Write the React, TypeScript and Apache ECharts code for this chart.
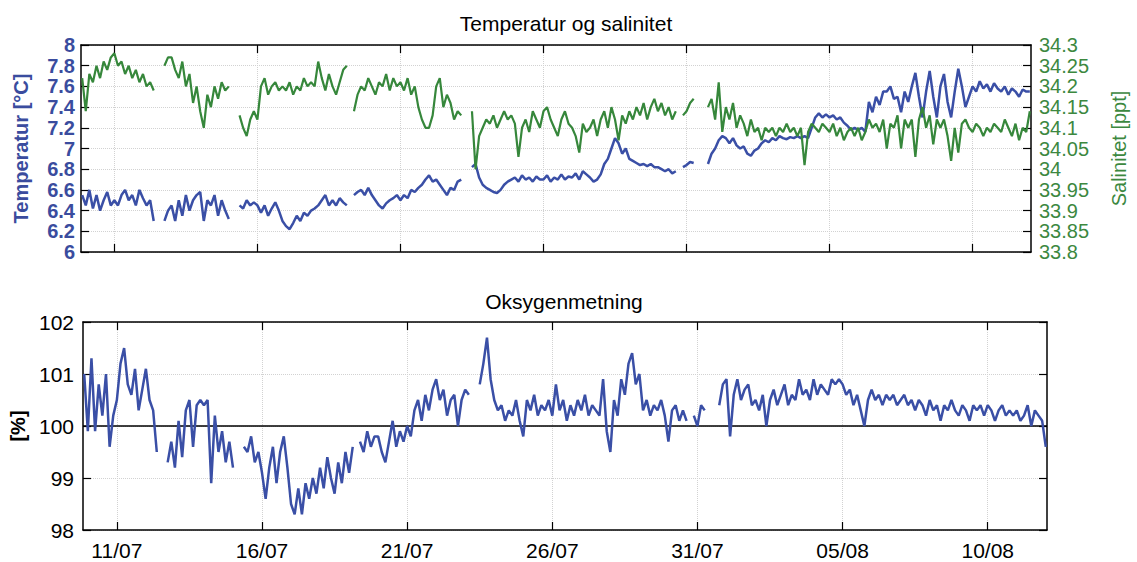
import React, { useEffect, useRef } from 'react';
import * as echarts from 'echarts';

// ---- time base (one sample every 3 hours) ----
const YEAR = 2013;
const firstSample = Date.UTC(YEAR, 6, 9, 21);
const stepHours = 3;
const xMin = Date.UTC(YEAR, 6, 9, 20);
const xMax = Date.UTC(YEAR, 7, 12, 1);
const xTickLabels = ['11/07', '16/07', '21/07', '26/07', '31/07', '05/08', '10/08'];

// ---- Temperature [°C] ----
const temperature: (number | null)[] = [
  6.55,
  6.45, 6.6, 6.42, 6.55, 6.4, 6.5, 6.58, 6.45,
  6.5, 6.45, 6.55, 6.6, 6.5, 6.55, 6.45, 6.6,
  6.52, 6.45, 6.5, 6.3, null, null, 6.3, 6.4,
  6.45, 6.3, 6.5, 6.35, 6.55, 6.4, 6.5, 6.55,
  6.58, 6.3, 6.5, 6.45, 6.55, 6.35, 6.5, 6.4,
  6.32, null, null, 6.45, 6.42, 6.5, 6.45, 6.48,
  6.45, 6.38, 6.45, 6.35, 6.42, 6.48, 6.4, 6.3,
  6.25, 6.22, 6.28, 6.35, 6.3, 6.38, 6.35, 6.4,
  6.42, 6.45, 6.5, 6.55, 6.45, 6.5, 6.45, 6.52,
  6.48, 6.45, null, 6.55, 6.58, 6.6, 6.55, 6.62,
  6.55, 6.5, 6.45, 6.42, 6.47, 6.5, 6.52, 6.55,
  6.5, 6.55, 6.52, 6.6, 6.58, 6.62, 6.65, 6.7,
  6.74, 6.68, 6.7, 6.65, 6.6, 6.55, 6.62, 6.6,
  6.68, 6.7, null, null, 6.82, 6.85, 6.72, 6.65,
  6.62, 6.6, 6.58, 6.57, 6.6, 6.65, 6.68, 6.7,
  6.72, 6.68, 6.74, 6.7, 6.72, 6.68, 6.73, 6.7,
  6.7, 6.74, 6.68, 6.72, 6.7, 6.75, 6.7, 6.73,
  6.72, 6.76, 6.7, 6.78, 6.75, 6.72, 6.68, 6.7,
  6.75, 6.85, 6.9, 7.0, 7.1, 7.05, 6.95, 7.0,
  6.9, 6.88, 6.86, 6.84, 6.85, 6.83, 6.85, 6.82,
  6.82, 6.8, 6.78, 6.8, 6.76, 6.78, null, 6.82,
  6.84, 6.87, 6.86, null, null, null, 6.85, 6.95,
  7.0, 7.08, 7.12, 7.1, 7.05, 7.1, 7.03, 7.0,
  7.02, 6.95, 6.93, 6.98, 7.0, 7.05, 7.08, 7.06,
  7.1, 7.08, 7.12, 7.1, 7.09, 7.11, 7.1, 7.12,
  7.1, 7.12, 7.1, 7.2, 7.3, 7.34, 7.3, 7.33,
  7.3, 7.32, 7.28, 7.3, 7.25, 7.22, 7.18, 7.2,
  7.18, 7.2, 7.16, 7.45, 7.35, 7.5, 7.42, 7.55,
  7.55, 7.6, 7.48, 7.5, 7.35, 7.55, 7.45, 7.6,
  7.73, 7.5, 7.3, 7.55, 7.75, 7.5, 7.3, 7.6,
  7.72, 7.45, 7.3, 7.55, 7.77, 7.6, 7.4, 7.5,
  7.6, 7.55, 7.65, 7.58, 7.62, 7.55, 7.63, 7.58,
  7.55, 7.6, 7.52, 7.58, 7.55, 7.5, 7.57, 7.55,
  7.55,
];

// ---- Salinity ----
const salinity: (number | null)[] = [
  34.22,
  34.14, 34.23, 34.21, 34.25, 34.22, 34.26, 34.24, 34.27,
  34.28, 34.25, 34.26, 34.23, 34.25, 34.22, 34.24, 34.21,
  34.23, 34.2, 34.21, 34.19, null, null, 34.25, 34.27,
  34.27, 34.24, 34.22, 34.26, 34.2, 34.23, 34.16, 34.2,
  34.14, 34.1, 34.18, 34.15, 34.2, 34.17, 34.21, 34.19,
  34.2, null, null, 34.13, 34.1, 34.08, 34.12, 34.14,
  34.12, 34.2, 34.22, 34.18, 34.2, 34.21, 34.19, 34.2,
  34.19, 34.21, 34.18, 34.2, 34.19, 34.22, 34.2, 34.21,
  34.2, 34.26, 34.22, 34.19, 34.23, 34.2, 34.18, 34.21,
  34.24, 34.25, null, 34.14, 34.18, 34.2, 34.19, 34.22,
  34.2, 34.18, 34.21, 34.2, 34.23, 34.19, 34.22, 34.2,
  34.21, 34.19, 34.22, 34.18, 34.2, 34.15, 34.12, 34.1,
  34.1, 34.13, 34.2, 34.22, 34.15, 34.18, 34.16, 34.12,
  34.14, 34.13, null, null, 34.14, 34.0, 34.08, 34.1,
  34.12, 34.11, 34.13, 34.1, 34.12, 34.14, 34.12, 34.13,
  34.11, 34.03, 34.1, 34.12, 34.09, 34.14, 34.12, 34.1,
  34.14, 34.15, 34.12, 34.1, 34.08, 34.12, 34.14, 34.11,
  34.1, 34.08, 34.04, 34.11, 34.09, 34.1, 34.12, 34.08,
  34.12, 34.14, 34.1, 34.15, 34.12, 34.07, 34.13, 34.11,
  34.14, 34.12, 34.15, 34.13, 34.16, 34.12, 34.15, 34.17,
  34.14, 34.16, 34.13, 34.15, 34.12, 34.14, null, 34.13,
  34.14, 34.16, 34.17, null, null, null, 34.15, 34.17,
  34.12, 34.21, 34.09, 34.15, 34.12, 34.16, 34.1, 34.13,
  34.11, 34.08, 34.12, 34.09, 34.1, 34.07, 34.1, 34.09,
  34.1, 34.08, 34.1, 34.09, 34.11, 34.09, 34.1, 34.08,
  34.1, 34.01, 34.09, 34.11, 34.1, 34.09, 34.11, 34.1,
  34.09, 34.11, 34.08, 34.1, 34.07, 34.09, 34.1, 34.08,
  34.1, 34.07, 34.09, 34.12, 34.1, 34.11, 34.09, 34.12,
  34.05, 34.11, 34.1, 34.13, 34.05, 34.12, 34.1, 34.12,
  34.03, 34.12, 34.15, 34.1, 34.13, 34.06, 34.12, 34.1,
  34.12, 34.08, 34.02, 34.1, 34.04, 34.11, 34.12, 34.1,
  34.09, 34.11, 34.1, 34.08, 34.1, 34.09, 34.11, 34.1,
  34.09, 34.12, 34.1, 34.08, 34.11, 34.07, 34.1, 34.09,
  34.14,
];

// ---- Oxygen saturation [%] ----
const oxygen: (number | null)[] = [
  101.0,
  99.9, 101.3, 99.9, 100.8, 100.2, 101.0, 99.6, 100.2,
  100.5, 101.2, 101.5, 100.8, 100.6, 101.1, 100.3, 100.7,
  101.1, 100.5, 100.3, 99.5, null, null, 99.3, 99.7,
  99.2, 100.1, 99.4, 100.3, 100.5, 99.6, 100.4, 100.5,
  100.4, 100.5, 98.9, 100.2, 99.5, 99.9, 99.3, 99.7,
  99.2, null, null, 99.6, 99.5, 99.8, 99.3, 99.5,
  99.1, 98.6, 99.2, 99.6, 98.9, 99.5, 99.8, 99.2,
  98.5, 98.3, 98.8, 98.3, 98.9, 98.6, 99.0, 98.7,
  99.2, 98.8, 99.4, 99.0, 98.7, 99.3, 98.9, 99.5,
  99.1, 99.6, null, 99.7, 99.5, 99.9, 99.6, 99.8,
  99.8, 99.5, 99.3, 99.7, 100.1, 99.6, 99.9, 99.7,
  100.0, 99.8, 100.3, 100.5, 100.1, 100.6, 100.3, 100.7,
  100.9, 100.5, 100.7, 100.2, 100.5, 100.6, 100.0, 100.5,
  100.7, 100.6, null, null, 100.8, 101.2, 101.7, 100.9,
  100.5, 100.3, 100.4, 100.1, 100.3, 100.2, 100.5, 100.1,
  99.8, 100.5, 100.3, 100.6, 100.2, 100.4, 100.3, 100.5,
  100.2, 100.8, 100.3, 100.5, 100.1, 100.4, 100.2, 100.5,
  100.3, 100.6, 100.2, 100.4, 100.3, 100.2, 100.9, 99.9,
  99.5, 100.5, 100.2, 100.9, 100.6, 101.2, 101.4, 100.8,
  101.0, 100.3, 100.5, 100.2, 100.4, 100.3, 100.5, 100.2,
  99.7, 100.3, 100.4, 100.1, 100.3, 100.1, null, 100.2,
  100.0, 100.4, 100.3, null, null, null, 100.4, 100.8,
  100.9, 99.8, 100.6, 100.9, 100.5, 100.7, 100.8, 100.4,
  100.5, 100.3, 100.6, 100.0, 100.5, 100.7, 100.4, 100.6,
  100.8, 100.4, 100.6, 100.5, 100.9, 100.6, 100.7, 100.5,
  100.9, 100.6, 100.8, 100.7, 100.6, 100.9, 100.8, 100.9,
  100.8, 100.6, 100.7, 100.4, 100.6, 100.3, 100.0, 100.5,
  100.7, 100.5, 100.6, 100.4, 100.6, 100.5, 100.6, 100.4,
  100.5, 100.6, 100.4, 100.5, 100.3, 100.5, 100.4, 100.2,
  100.5, 100.3, 100.4, 100.1, 100.4, 100.3, 100.5, 100.3,
  100.2, 100.4, 100.3, 100.1, 100.4, 100.3, 100.4, 100.2,
  100.4, 100.3, 100.1, 100.3, 100.4, 100.2, 100.3, 100.2,
  100.3, 100.1, 100.2, 100.4, 100.0, 100.3, 100.2, 100.1,
  99.6,
];

const oxygenReference = 100;

const BLUE = '#3a4fa6';
const BLUE_TEXT = '#3a4c9e';
const GREEN = '#36873b';
const GREEN_TEXT = '#3c883f';
const FONT = '"Liberation Sans", Arial, sans-serif';

function toPairs(values: (number | null)[]) {
  return values.map((v, i) => [firstSample + i * stepHours * 3600 * 1000, v]);
}

function tickValue(label: string) {
  const [d, m] = label.split('/').map(Number);
  return Date.UTC(YEAR, m - 1, d);
}

function fmtDate(v: number) {
  const d = new Date(v);
  const dd = String(d.getUTCDate()).padStart(2, '0');
  const mm = String(d.getUTCMonth() + 1).padStart(2, '0');
  return `${dd}/${mm}`;
}

export default function App() {
  const ref = useRef<HTMLDivElement>(null);

  useEffect(() => {
    if (!ref.current) return;
    const chart = echarts.init(ref.current, undefined, { renderer: 'svg' });
    const ticks = xTickLabels.map(tickValue);
    const gridLine = { show: true, lineStyle: { color: '#d2d2d2', type: 'dotted' as const, width: 1 } };
    const axisLine = { show: true, lineStyle: { color: '#000', width: 1.5 } };
    const tickIn = { show: true, inside: true, length: 8, lineStyle: { color: '#000', width: 1.2 } };

    const xBase = (gridIndex: number, position: 'top' | 'bottom', showLabels: boolean, split: boolean) => ({
      type: 'value',
      gridIndex,
      position,
      min: xMin,
      max: xMax,
      axisLine,
      axisTick: { ...tickIn, customValues: ticks },
      axisLabel: {
        show: showLabels,
        customValues: ticks,
        formatter: (v: number) => fmtDate(v),
        color: '#000',
        fontSize: 21,
        fontFamily: FONT,
        margin: 10,
      },
      splitLine: split ? gridLine : { show: false },
    });

    const denseLabel = {
      fontSize: 20,
      lineHeight: 19,
      fontFamily: FONT,
      interval: 0,
      showMinLabel: true,
      showMaxLabel: true,
      hideOverlap: false,
    };

    const option: any = {
      animation: false,
      backgroundColor: '#fff',
      title: [
        {
          text: 'Temperatur og salinitet',
          left: 561,
          top: 8,
          textAlign: 'center',
          textStyle: { fontSize: 21, fontWeight: 'normal', color: '#000', fontFamily: FONT },
        },
        {
          text: 'Oksygenmetning',
          left: 559,
          top: 286,
          textAlign: 'center',
          textStyle: { fontSize: 21, fontWeight: 'normal', color: '#000', fontFamily: FONT },
        },
      ],
      grid: [
        { left: 81, top: 45, width: 966, height: 207, containLabel: false },
        { left: 81, top: 322, width: 966, height: 208, containLabel: false },
      ],
      xAxis: [
        xBase(0, 'bottom', false, true),
        xBase(0, 'top', false, false),
        xBase(1, 'bottom', true, true),
        xBase(1, 'top', false, false),
      ],
      yAxis: [
        {
          type: 'value',
          gridIndex: 0,
          position: 'left',
          min: 6,
          max: 8,
          interval: 0.2,
          name: 'Temperatur [°C]',
          nameLocation: 'middle',
          nameGap: 50,
          nameRotate: 90,
          nameTextStyle: { color: BLUE_TEXT, fontSize: 20, fontWeight: 'bold', fontFamily: FONT },
          axisLine,
          axisTick: tickIn,
          axisLabel: { ...denseLabel, color: BLUE_TEXT, fontWeight: 'bold', margin: 6 },
          splitLine: gridLine,
        },
        {
          type: 'value',
          gridIndex: 0,
          position: 'right',
          min: 33.8,
          max: 34.3,
          interval: 0.05,
          name: 'Salinitet [ppt]',
          nameLocation: 'middle',
          nameGap: 78,
          nameRotate: 90,
          nameTextStyle: { color: GREEN_TEXT, fontSize: 20, fontFamily: FONT },
          axisLine,
          axisTick: tickIn,
          axisLabel: { ...denseLabel, color: GREEN_TEXT, margin: 8 },
          splitLine: { show: false },
        },
        {
          type: 'value',
          gridIndex: 1,
          position: 'left',
          min: 98,
          max: 102,
          interval: 1,
          name: '[%]',
          nameLocation: 'middle',
          nameGap: 55,
          nameRotate: 90,
          nameTextStyle: { color: '#000', fontSize: 20, fontWeight: 'bold', fontFamily: FONT },
          axisLine,
          axisTick: tickIn,
          axisLabel: { color: '#000', fontSize: 21, fontFamily: FONT, margin: 9, showMinLabel: true, showMaxLabel: true },
          splitLine: gridLine,
        },
        {
          type: 'value',
          gridIndex: 1,
          position: 'right',
          min: 98,
          max: 102,
          interval: 1,
          axisLine,
          axisTick: tickIn,
          axisLabel: { show: false },
          splitLine: { show: false },
        },
      ],
      series: [
        {
          name: 'Temperatur',
          type: 'line',
          xAxisIndex: 0,
          yAxisIndex: 0,
          data: toPairs(temperature),
          showSymbol: false,
          lineStyle: { color: BLUE, width: 2.5 },
          itemStyle: { color: BLUE },
          connectNulls: false,
        },
        {
          name: 'Salinitet',
          type: 'line',
          xAxisIndex: 0,
          yAxisIndex: 1,
          data: toPairs(salinity),
          showSymbol: false,
          lineStyle: { color: GREEN, width: 2.2 },
          itemStyle: { color: GREEN },
          connectNulls: false,
        },
        {
          name: 'Oksygenmetning',
          type: 'line',
          xAxisIndex: 2,
          yAxisIndex: 2,
          data: toPairs(oxygen),
          showSymbol: false,
          lineStyle: { color: BLUE, width: 2.5 },
          itemStyle: { color: BLUE },
          connectNulls: false,
          z: 3,
          markLine: {
            silent: true,
            symbol: ['none', 'none'],
            label: { show: false },
            lineStyle: { color: '#000', width: 1.5, type: 'solid' },
            data: [{ yAxis: oxygenReference }],
            z: 2,
          },
        },
      ],
    };

    chart.setOption(option);
    return () => chart.dispose();
  }, []);

  return (
    <div
      ref={ref}
      style={{ position: 'fixed', left: 0, top: 0, width: 1137, height: 562, background: '#fff' }}
    />
  );
}
